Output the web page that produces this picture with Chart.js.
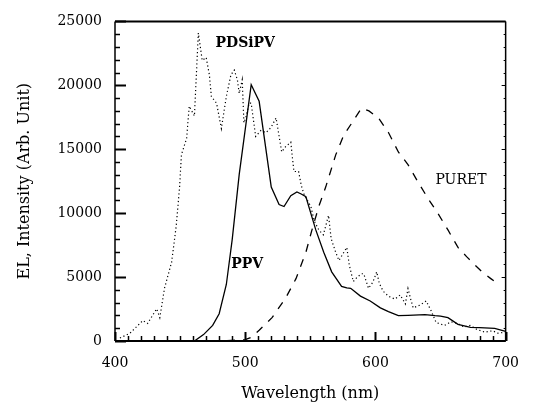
<!DOCTYPE html>
<html>
<head>
<meta charset="utf-8">
<script src="https://cdn.jsdelivr.net/npm/chart.js@4/dist/chart.umd.min.js"></script>
<style>
html,body{margin:0;padding:0;background:#fff;}
#wrap{width:533px;height:403px;}
</style>
</head>
<body>
<div id="wrap"><canvas id="c" width="533" height="403"></canvas></div>
<script>
// ---- data ----
const xTicks = [400, 500, 600, 700];
const yTicks = [0, 5000, 10000, 15000, 20000, 25000];

const ppvWl  = [400,455,461,468,475,480,485.5,490,495.4,504.6,510.7,520,526,529.8,535,539.7,543,546.6,550.4,554.2,560.3,566.4,574,578,581,588.5,596,603.8,610,617.6,625,638,645.8,650,655.7,663.4,673,680,691.6,700];
const ppvInt = [0,0,0,500,1220,2130,4420,7930,13030,20050,18750,12040,10670,10520,11360,11660,11500,11280,9980,8690,6940,5410,4270,4150,4120,3510,3130,2590,2300,1980,2000,2060,1980,1950,1830,1300,1070,1050,990,760];

const puretWl  = [400,480,500,505,510.7,520.6,531,539,546.6,551,556.5,561.8,569.5,575.6,583,589.3,595,602.3,610,617.6,625,632.8,640.5,648,655.7,663.4,670,676.4,682,688.6,691.6];
const puretInt = [0,0,100,300,840,1830,3350,4880,6940,8600,10520,12040,14560,16080,17230,18220,18000,17450,16310,14790,13800,12420,11130,9980,8690,7320,6600,5950,5400,4880,4650];

const pdsWl  = [403.8,411.5,421.4,425,432,434.4,438,443.5,447,449.6,451,455,457,461,464,467,470,472.5,474,478,481.7,485.5,489,491.6,494,495.4,497.7,499,500.8,503,504.6,508,512,516,519.8,523.7,528,531,535,537.4,541,543,545,550.4,553,556.5,560,564,566,569.5,572,578,580,583,586,589.3,591,594.7,598,601,603,606,610,615,619,623,625,627,629,634,639,642.8,646.6,653,658,663,668,673,678,684,690,694,700];
const pdsInt = [230,610,1600,1370,2520,1830,4120,6170,8990,12040,14560,15850,18370,17600,24090,21950,22180,20810,19130,18600,16620,19130,20810,21190,20430,19360,20430,17070,17600,18600,18600,16000,16460,16300,16700,17450,14790,15200,15550,13260,13260,12200,11510,10520,9400,8690,8300,9830,8000,6940,6300,7320,5900,4650,5000,5260,5260,4120,4600,5410,4500,3890,3500,3280,3600,2900,4100,3300,2590,2800,3130,2360,1450,1220,1500,1370,1100,1220,900,690,800,610,700];

const seriesNames = ['PDSiPV', 'PPV', 'PURET'];
const labelPos = [
  {name:'PDSiPV', x:500, y:23320, bold:true},
  {name:'PPV', x:501.5, y:6020, bold:true},
  {name:'PURET', x:665.7, y:12580, bold:false}
];

function pts(xs, ys){ return xs.map((v,i)=>({x:v, y:ys[i]})); }

const FONT = '"DejaVu Serif", "Liberation Serif", serif';

const framePlugin = {
  id:'frame',
  afterDraw(chart){
    const ctx = chart.ctx;
    const a = chart.chartArea;
    const xs = chart.scales.x, ys = chart.scales.y;
    ctx.save();
    ctx.setLineDash([]);
    ctx.strokeStyle = '#000';
    ctx.lineCap = 'butt';
    // frame
    ctx.lineWidth = 1.5;
    ctx.beginPath();
    ctx.moveTo(a.left, a.top); ctx.lineTo(a.left, a.bottom);
    ctx.moveTo(a.right, a.top); ctx.lineTo(a.right, a.bottom);
    ctx.stroke();
    ctx.lineWidth = 2;
    ctx.beginPath();
    ctx.moveTo(a.left, a.top); ctx.lineTo(a.right, a.top);
    ctx.moveTo(a.left, a.bottom); ctx.lineTo(a.right, a.bottom);
    ctx.stroke();
    // y ticks (inward)
    for(let v=0; v<=25000; v+=1000){
      const p = Math.round(ys.getPixelForValue(v)) + 0.5;
      const major = v % 5000 === 0;
      ctx.lineWidth = major ? 2 : 1.5;
      ctx.beginPath();
      ctx.moveTo(a.left, p); ctx.lineTo(a.left + (major?11:5), p);
      ctx.stroke();
      ctx.lineWidth = 1;
      ctx.beginPath();
      ctx.moveTo(a.right, p); ctx.lineTo(a.right - (major?4:2), p);
      ctx.stroke();
    }
    // x ticks (inward)
    for(let v=400; v<=700; v+=10){
      const p = Math.round(xs.getPixelForValue(v)) + 0.5;
      const major = v % 100 === 0;
      ctx.lineWidth = major ? 2 : 1.5;
      ctx.beginPath();
      ctx.moveTo(p, a.bottom); ctx.lineTo(p, a.bottom - (major?9:5));
      ctx.stroke();
    }
    // series labels
    ctx.fillStyle = '#000';
    ctx.textAlign = 'center';
    ctx.textBaseline = 'middle';
    labelPos.forEach(l=>{
      ctx.font = (l.bold?'bold ':'') + '14px ' + FONT;
      ctx.fillText(l.name, xs.getPixelForValue(l.x), ys.getPixelForValue(l.y));
    });
    ctx.restore();
  }
};

new Chart(document.getElementById('c'), {
  type:'line',
  data:{
    datasets:[
      {label:seriesNames[0], data:pts(pdsWl,pdsInt), borderColor:'#000', borderWidth:1.2, borderDash:[1.2,2.6], pointRadius:0, tension:0, fill:false},
      {label:seriesNames[1], data:pts(ppvWl,ppvInt), borderColor:'#000', borderWidth:1.3, pointRadius:0, tension:0, fill:false},
      {label:seriesNames[2], data:pts(puretWl,puretInt), borderColor:'#000', borderWidth:1.3, borderDash:[8,8], pointRadius:0, tension:0, fill:false}
    ]
  },
  options:{
    responsive:false,
    animation:false,
    layout:{padding:{top:13, right:25, left:0, bottom:0}},
    plugins:{legend:{display:false}, tooltip:{enabled:false}},
    scales:{
      x:{
        type:'linear', min:400, max:700,
        afterBuildTicks(s){ s.ticks = xTicks.map(v=>({value:v})); },
        afterFit(s){ s.height = 62; },
        grid:{display:false, drawTicks:false},
        border:{display:false},
        ticks:{padding:14, color:'#000', font:{family:FONT, size:14}, maxRotation:0, callback:(v)=>String(v)},
        title:{display:true, text:'Wavelength (nm)', color:'#000', font:{family:FONT, size:16}, padding:{top:9, bottom:0}}
      },
      y:{
        type:'linear', min:0, max:25000,
        afterBuildTicks(s){ s.ticks = yTicks.map(v=>({value:v})); },
        afterFit(s){ s.width = 115; },
        grid:{display:false, drawTicks:false},
        border:{display:false},
        ticks:{padding:13, color:'#000', font:{family:FONT, size:14}, callback:(v)=>String(v)},
        title:{display:true, text:'EL, Intensity (Arb. Unit)', color:'#000', font:{family:FONT, size:16}, padding:{top:15, bottom:0}}
      }
    }
  },
  plugins:[framePlugin]
});
</script>
</body>
</html>
